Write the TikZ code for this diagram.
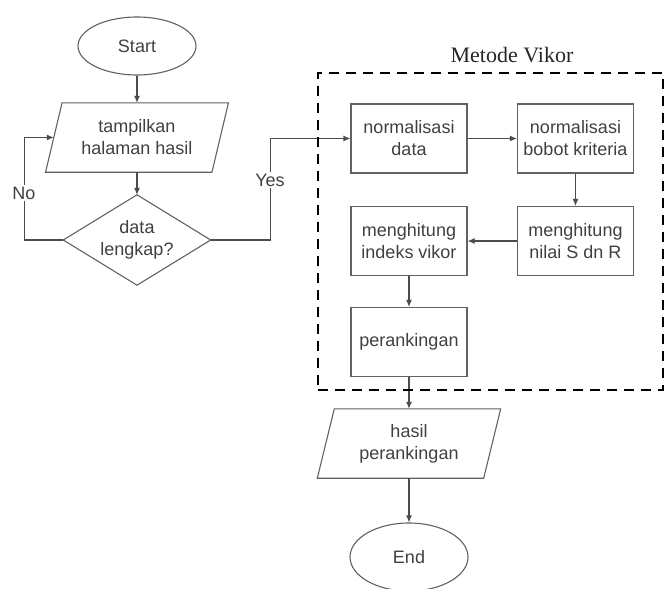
\documentclass[tikz,border=0pt]{standalone}
\usepackage{fontspec}
\setmainfont{Liberation Sans}
\newfontfamily\titleserif{Liberation Serif}
\usetikzlibrary{shapes.geometric,arrows.meta}
\definecolor{edgegray}{gray}{0.38}
\definecolor{linegray}{gray}{0.30}
\definecolor{txtgray}{gray}{0.25}
\begin{document}
\begin{tikzpicture}[x=1pt,y=-1pt,
  txt/.style={font=\fontsize{18}{22}\selectfont, text=txtgray},
  line/.style={draw=linegray, line width=1.1pt},
  arr/.style={line, -{Latex[length=7pt,width=6pt]}},
  proc/.style={txt, draw=edgegray, line width=1.1pt, minimum width=116pt, minimum height=69pt, inner sep=0pt, align=center},
  term/.style={txt, ellipse, draw=edgegray, line width=1.1pt, minimum width=118pt, minimum height=58pt, inner sep=0pt},
  io/.style={txt, minimum width=166pt, minimum height=69pt, inner sep=0pt, align=center},
  para/.style={draw=edgegray, line width=1.1pt},
  dec/.style={txt, minimum width=147pt, minimum height=90pt, inner sep=0pt, align=center},
  lbl/.style={txt, fill=white, inner sep=1.5pt},
  frame/.style={draw=black, line width=2.3pt, dash pattern=on 10pt off 7pt, minimum width=345pt, minimum height=317pt, inner sep=0pt}
]
\useasboundingbox (0,0) rectangle (665,589);

% left column
\node[term] (start) at (137,46) {Start};
\node[io] (show) at (137,137.5) {tampilkan\\halaman hasil};
\draw[para] ([xshift=8.25pt]show.north west) -- ([xshift=8.25pt]show.north east)
  -- ([xshift=-8.25pt]show.south east) -- ([xshift=-8.25pt]show.south west) -- cycle;
\node[dec] (dec) at (137,240) {data\\lengkap?};
\draw[para] (dec.north) -- (dec.east) -- (dec.south) -- (dec.west) -- cycle;

% Vikor block
\node[proc] (nd) at (409,138.5) {normalisasi\\data};
\node[proc] (nb) at (575.5,138.5) {normalisasi\\bobot kriteria};
\node[proc] (ns) at (575.5,241) {menghitung\\nilai S dn R};
\node[proc] (ni) at (409,241) {menghitung\\indeks vikor};
\node[proc] (pr) at (409,342) {perankingan};

% output
\node[io] (hp) at (409,443.5) {hasil\\perankingan};
\draw[para] ([xshift=8.5pt]hp.north west) -- ([xshift=8.5pt]hp.north east)
  -- ([xshift=-8.5pt]hp.south east) -- ([xshift=-8.5pt]hp.south west) -- cycle;
\node[term, minimum height=68pt] (end) at (409,557) {End};

% connectors
\draw[arr] (start.south) -- (show.north);
\draw[arr] (show.south) -- (dec.north);
\draw[arr] (dec.west) -- ++(-39,0) |- (show.west);
\draw[arr] (dec.east) -- ++(60,0) |- (nd.west);
\draw[arr] (nd.east) -- (nb.west);
\draw[arr] (nb.south) -- (ns.north);
\draw[arr] (ns.west) -- (ni.east);
\draw[arr] (ni.south) -- (pr.north);
\draw[arr] (pr.south) -- (hp.north);
\draw[arr] (hp.south) -- (end.north);

\node[lbl] (nolbl) at (24,193) {No};
\node[lbl] (yeslbl) at (270,180) {Yes};

% dashed frame
\node[frame] (vikor) at (490.5,231.5) {};
\node[font=\titleserif\fontsize{22}{26}\selectfont, text=black!85] (vtitle) at (512,55) {Metode Vikor};
\end{tikzpicture}
\end{document}
